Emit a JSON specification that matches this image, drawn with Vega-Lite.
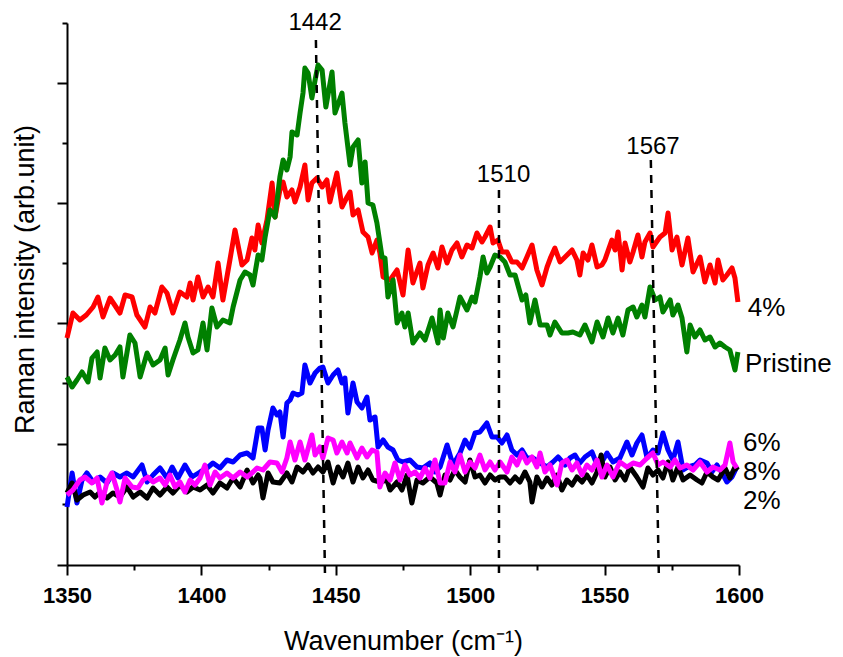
{
"$schema":"https://vega.github.io/schema/vega-lite/v6.json",
"width":672,"height":542,
"autosize":{"type":"none"},
"padding":{"left":67,"top":23,"right":104,"bottom":92},
"config":{"view":{"stroke":null},"font":"Liberation Sans"},
"datasets":{
"red":[{"x":1350,"y":227},{"x":1352.2,"y":252},{"x":1354.8,"y":245},{"x":1357.2,"y":250},{"x":1359.7,"y":258},{"x":1361.5,"y":268},{"x":1363.4,"y":248},{"x":1366.0,"y":267},{"x":1369.7,"y":252},{"x":1371.6,"y":270},{"x":1374.2,"y":268},{"x":1376.0,"y":250},{"x":1379.0,"y":238},{"x":1380.9,"y":258},{"x":1382.7,"y":252},{"x":1385.3,"y":278},{"x":1387.2,"y":272},{"x":1389.4,"y":252},{"x":1392.0,"y":273},{"x":1394.6,"y":268},{"x":1395.8,"y":282},{"x":1396.9,"y":265},{"x":1398.7,"y":288},{"x":1400.6,"y":268},{"x":1402.5,"y":278},{"x":1404.3,"y":268},{"x":1406.2,"y":302},{"x":1408.0,"y":265},{"x":1410.6,"y":305},{"x":1412.5,"y":335},{"x":1415.1,"y":300},{"x":1417.0,"y":305},{"x":1418.8,"y":327},{"x":1419.9,"y":315},{"x":1421.1,"y":340},{"x":1422.5,"y":322},{"x":1424.4,"y":345},{"x":1426.3,"y":382},{"x":1427.4,"y":348},{"x":1429.2,"y":375},{"x":1430.4,"y":383},{"x":1431.8,"y":368},{"x":1433.7,"y":375},{"x":1434.8,"y":363},{"x":1436.7,"y":378},{"x":1438.5,"y":400},{"x":1439.7,"y":365},{"x":1441.1,"y":382},{"x":1443.0,"y":387},{"x":1444.9,"y":378},{"x":1446.7,"y":385},{"x":1447.8,"y":363},{"x":1450.4,"y":392},{"x":1452.3,"y":358},{"x":1454.2,"y":368},{"x":1455.3,"y":373},{"x":1456.4,"y":350},{"x":1458.3,"y":355},{"x":1460.1,"y":333},{"x":1462.0,"y":328},{"x":1463.5,"y":312},{"x":1465.3,"y":325},{"x":1466.4,"y":312},{"x":1467.6,"y":288},{"x":1470.2,"y":285},{"x":1472.8,"y":295},{"x":1475.0,"y":270},{"x":1476.9,"y":315},{"x":1478.7,"y":282},{"x":1481.3,"y":302},{"x":1482.4,"y":277},{"x":1484.3,"y":300},{"x":1486.2,"y":312},{"x":1488.0,"y":297},{"x":1489.5,"y":318},{"x":1491.4,"y":302},{"x":1493.2,"y":315},{"x":1495.1,"y":322},{"x":1496.9,"y":308},{"x":1498.8,"y":320},{"x":1500.7,"y":317},{"x":1502.5,"y":332},{"x":1504.4,"y":323},{"x":1505.5,"y":328},{"x":1507.4,"y":338},{"x":1508.5,"y":322},{"x":1510.3,"y":325},{"x":1511.8,"y":313},{"x":1513.7,"y":313},{"x":1515.5,"y":303},{"x":1517.4,"y":303},{"x":1519.3,"y":297},{"x":1521.1,"y":308},{"x":1523.0,"y":320},{"x":1524.8,"y":295},{"x":1526.7,"y":280},{"x":1528.6,"y":298},{"x":1530.0,"y":308},{"x":1531.5,"y":317},{"x":1533.4,"y":303},{"x":1535.3,"y":308},{"x":1537.9,"y":315},{"x":1539.7,"y":305},{"x":1540.8,"y":290},{"x":1542.0,"y":312},{"x":1543.8,"y":305},{"x":1545.3,"y":320},{"x":1547.2,"y":298},{"x":1549.0,"y":300},{"x":1550.1,"y":305},{"x":1552.7,"y":325},{"x":1553.9,"y":315},{"x":1555.0,"y":333},{"x":1556.5,"y":295},{"x":1557.6,"y":322},{"x":1559.4,"y":303},{"x":1560.6,"y":313},{"x":1562.4,"y":330},{"x":1563.9,"y":308},{"x":1565.0,"y":323},{"x":1566.9,"y":332},{"x":1568.0,"y":318},{"x":1570.6,"y":328},{"x":1572.5,"y":332},{"x":1573.6,"y":352},{"x":1575.1,"y":315},{"x":1576.9,"y":328},{"x":1578.8,"y":300},{"x":1581.0,"y":327},{"x":1582.9,"y":293},{"x":1585.5,"y":308},{"x":1587.3,"y":283},{"x":1589.2,"y":300},{"x":1591.1,"y":282},{"x":1592.2,"y":305},{"x":1594.0,"y":285},{"x":1595.5,"y":290},{"x":1597.4,"y":297},{"x":1598.5,"y":287},{"x":1599.6,"y":263}],
"green":[{"x":1350,"y":188},{"x":1351.9,"y":178},{"x":1353.7,"y":185},{"x":1355.6,"y":193},{"x":1357.8,"y":183},{"x":1359.3,"y":207},{"x":1361.2,"y":213},{"x":1362.3,"y":187},{"x":1364.1,"y":217},{"x":1366.0,"y":205},{"x":1367.9,"y":210},{"x":1369.7,"y":218},{"x":1370.8,"y":188},{"x":1373.4,"y":230},{"x":1375.3,"y":222},{"x":1377.2,"y":188},{"x":1379.8,"y":212},{"x":1382.0,"y":200},{"x":1384.6,"y":205},{"x":1386.5,"y":217},{"x":1387.6,"y":190},{"x":1389.4,"y":205},{"x":1392.0,"y":225},{"x":1393.9,"y":242},{"x":1395.0,"y":228},{"x":1396.9,"y":212},{"x":1398.7,"y":215},{"x":1400.6,"y":242},{"x":1402.1,"y":215},{"x":1403.9,"y":257},{"x":1405.8,"y":238},{"x":1408.0,"y":245},{"x":1410.6,"y":242},{"x":1411.8,"y":258},{"x":1414.4,"y":285},{"x":1416.2,"y":293},{"x":1418.1,"y":290},{"x":1419.2,"y":280},{"x":1421.1,"y":310},{"x":1422.5,"y":305},{"x":1423.7,"y":328},{"x":1425.5,"y":355},{"x":1427.4,"y":348},{"x":1429.2,"y":388},{"x":1430.4,"y":405},{"x":1431.8,"y":395},{"x":1433.0,"y":408},{"x":1433.7,"y":433},{"x":1435.6,"y":430},{"x":1436.7,"y":452},{"x":1437.8,"y":472},{"x":1438.5,"y":497},{"x":1439.7,"y":492},{"x":1441.1,"y":467},{"x":1442.3,"y":485},{"x":1443.4,"y":500},{"x":1444.9,"y":495},{"x":1446.3,"y":458},{"x":1448.6,"y":493},{"x":1449.7,"y":452},{"x":1452.3,"y":472},{"x":1453.4,"y":442},{"x":1455.3,"y":400},{"x":1456.4,"y":418},{"x":1458.3,"y":425},{"x":1459.7,"y":382},{"x":1460.9,"y":403},{"x":1462.0,"y":362},{"x":1463.8,"y":360},{"x":1465.3,"y":342},{"x":1467.2,"y":308},{"x":1468.3,"y":307},{"x":1469.4,"y":268},{"x":1471.3,"y":285},{"x":1472.8,"y":242},{"x":1474.6,"y":252},{"x":1475.7,"y":238},{"x":1476.9,"y":252},{"x":1478.7,"y":222},{"x":1481.3,"y":232},{"x":1483.2,"y":225},{"x":1485.8,"y":247},{"x":1488.0,"y":222},{"x":1488.8,"y":255},{"x":1490.0,"y":227},{"x":1491.7,"y":252},{"x":1493.6,"y":238},{"x":1495.1,"y":255},{"x":1496.2,"y":268},{"x":1498.8,"y":255},{"x":1500.7,"y":268},{"x":1501.8,"y":263},{"x":1503.6,"y":288},{"x":1504.8,"y":308},{"x":1506.2,"y":292},{"x":1507.4,"y":298},{"x":1509.2,"y":310},{"x":1511.1,"y":308},{"x":1512.9,"y":303},{"x":1514.8,"y":290},{"x":1516.7,"y":290},{"x":1519.3,"y":265},{"x":1520.7,"y":270},{"x":1522.2,"y":242},{"x":1524.1,"y":265},{"x":1526.0,"y":240},{"x":1528.6,"y":240},{"x":1529.7,"y":230},{"x":1531.5,"y":243},{"x":1534.1,"y":232},{"x":1536.4,"y":232},{"x":1538.2,"y":233},{"x":1540.8,"y":230},{"x":1542.7,"y":240},{"x":1545.3,"y":223},{"x":1547.2,"y":243},{"x":1549.4,"y":228},{"x":1551.3,"y":247},{"x":1553.1,"y":232},{"x":1555.0,"y":247},{"x":1556.8,"y":230},{"x":1558.7,"y":255},{"x":1560.6,"y":258},{"x":1562.0,"y":248},{"x":1563.9,"y":260},{"x":1565.0,"y":248},{"x":1566.9,"y":278},{"x":1568.8,"y":265},{"x":1570.6,"y":268},{"x":1571.7,"y":253},{"x":1574.4,"y":265},{"x":1575.4,"y":250},{"x":1577.3,"y":260},{"x":1578.8,"y":247},{"x":1580.6,"y":213},{"x":1581.8,"y":240},{"x":1583.6,"y":228},{"x":1585.5,"y":235},{"x":1587.3,"y":225},{"x":1589.2,"y":228},{"x":1591.1,"y":218},{"x":1592.9,"y":222},{"x":1594.8,"y":218},{"x":1596.6,"y":215},{"x":1598.5,"y":195},{"x":1599.6,"y":213}],
"blue":[{"x":1350,"y":58},{"x":1351.9,"y":92},{"x":1353.7,"y":62},{"x":1355.6,"y":85},{"x":1357.4,"y":92},{"x":1359.7,"y":83},{"x":1362.3,"y":88},{"x":1364.9,"y":82},{"x":1367.1,"y":92},{"x":1369.7,"y":88},{"x":1372.3,"y":92},{"x":1374.6,"y":88},{"x":1377.9,"y":100},{"x":1379.8,"y":83},{"x":1382.0,"y":90},{"x":1384.6,"y":97},{"x":1387.2,"y":87},{"x":1389.1,"y":98},{"x":1391.3,"y":87},{"x":1393.9,"y":100},{"x":1396.5,"y":88},{"x":1399.5,"y":93},{"x":1402.1,"y":97},{"x":1404.3,"y":102},{"x":1406.9,"y":97},{"x":1409.5,"y":105},{"x":1411.8,"y":103},{"x":1414.4,"y":110},{"x":1417.0,"y":112},{"x":1419.2,"y":107},{"x":1421.1,"y":137},{"x":1422.5,"y":137},{"x":1423.7,"y":115},{"x":1424.8,"y":135},{"x":1426.6,"y":157},{"x":1428.1,"y":150},{"x":1429.2,"y":153},{"x":1430.4,"y":128},{"x":1431.8,"y":162},{"x":1433.0,"y":165},{"x":1434.1,"y":172},{"x":1435.9,"y":170},{"x":1437.4,"y":172},{"x":1438.5,"y":200},{"x":1440.4,"y":182},{"x":1442.3,"y":192},{"x":1444.1,"y":197},{"x":1445.2,"y":198},{"x":1447.1,"y":182},{"x":1449.0,"y":190},{"x":1450.8,"y":195},{"x":1452.3,"y":182},{"x":1453.4,"y":187},{"x":1454.5,"y":152},{"x":1456.4,"y":182},{"x":1457.9,"y":163},{"x":1459.7,"y":157},{"x":1461.6,"y":168},{"x":1462.7,"y":145},{"x":1464.6,"y":148},{"x":1465.7,"y":118},{"x":1467.6,"y":125},{"x":1469.4,"y":118},{"x":1471.3,"y":115},{"x":1473.1,"y":105},{"x":1475.0,"y":103},{"x":1477.6,"y":105},{"x":1480.2,"y":98},{"x":1482.4,"y":97},{"x":1485.0,"y":102},{"x":1486.9,"y":93},{"x":1488.8,"y":98},{"x":1491.4,"y":120},{"x":1493.6,"y":100},{"x":1496.2,"y":112},{"x":1498.1,"y":125},{"x":1499.9,"y":117},{"x":1501.8,"y":132},{"x":1503.6,"y":133},{"x":1506.2,"y":142},{"x":1508.1,"y":128},{"x":1510.0,"y":128},{"x":1511.8,"y":122},{"x":1513.7,"y":130},{"x":1515.5,"y":115},{"x":1517.4,"y":110},{"x":1519.3,"y":115},{"x":1521.1,"y":107},{"x":1523.4,"y":107},{"x":1526.0,"y":102},{"x":1528.6,"y":98},{"x":1530.8,"y":103},{"x":1532.7,"y":108},{"x":1535.3,"y":100},{"x":1537.1,"y":107},{"x":1539.0,"y":110},{"x":1540.8,"y":102},{"x":1542.7,"y":108},{"x":1545.3,"y":113},{"x":1547.2,"y":100},{"x":1549.4,"y":105},{"x":1550.9,"y":112},{"x":1553.1,"y":103},{"x":1555.7,"y":107},{"x":1558.3,"y":123},{"x":1560.2,"y":110},{"x":1562.0,"y":122},{"x":1563.9,"y":130},{"x":1565.8,"y":107},{"x":1568.0,"y":115},{"x":1569.9,"y":112},{"x":1571.7,"y":132},{"x":1573.6,"y":115},{"x":1575.4,"y":105},{"x":1577.3,"y":123},{"x":1579.2,"y":95},{"x":1581.0,"y":98},{"x":1583.6,"y":100},{"x":1585.5,"y":105},{"x":1588.1,"y":102},{"x":1589.9,"y":93},{"x":1591.8,"y":100},{"x":1593.7,"y":92},{"x":1595.5,"y":83},{"x":1597.4,"y":88},{"x":1599.2,"y":98}],
"black":[{"x":1350,"y":72},{"x":1351.9,"y":82},{"x":1353.7,"y":65},{"x":1356.0,"y":70},{"x":1358.6,"y":73},{"x":1360.4,"y":68},{"x":1362.3,"y":73},{"x":1364.9,"y":67},{"x":1367.1,"y":72},{"x":1369.7,"y":68},{"x":1372.3,"y":78},{"x":1374.6,"y":68},{"x":1377.2,"y":73},{"x":1379.8,"y":67},{"x":1382.0,"y":77},{"x":1384.6,"y":70},{"x":1387.2,"y":78},{"x":1389.4,"y":72},{"x":1392.0,"y":80},{"x":1394.6,"y":73},{"x":1396.9,"y":78},{"x":1399.5,"y":75},{"x":1402.1,"y":80},{"x":1404.3,"y":72},{"x":1406.9,"y":82},{"x":1409.5,"y":77},{"x":1411.8,"y":87},{"x":1414.4,"y":78},{"x":1417.0,"y":95},{"x":1419.2,"y":82},{"x":1421.1,"y":90},{"x":1421.8,"y":87},{"x":1422.9,"y":67},{"x":1424.8,"y":92},{"x":1426.6,"y":83},{"x":1429.2,"y":82},{"x":1431.8,"y":92},{"x":1433.7,"y":83},{"x":1435.6,"y":98},{"x":1437.8,"y":93},{"x":1439.7,"y":100},{"x":1441.5,"y":92},{"x":1443.4,"y":98},{"x":1445.2,"y":93},{"x":1447.1,"y":103},{"x":1449.0,"y":82},{"x":1450.8,"y":98},{"x":1452.7,"y":88},{"x":1454.5,"y":102},{"x":1456.4,"y":83},{"x":1458.3,"y":98},{"x":1460.1,"y":87},{"x":1462.0,"y":95},{"x":1463.8,"y":85},{"x":1466.4,"y":83},{"x":1469.0,"y":85},{"x":1470.2,"y":75},{"x":1472.8,"y":83},{"x":1474.6,"y":75},{"x":1476.5,"y":90},{"x":1478.3,"y":62},{"x":1480.2,"y":85},{"x":1482.4,"y":82},{"x":1485.0,"y":88},{"x":1487.6,"y":82},{"x":1488.8,"y":70},{"x":1490.6,"y":90},{"x":1492.5,"y":85},{"x":1494.3,"y":95},{"x":1496.2,"y":88},{"x":1498.1,"y":83},{"x":1499.9,"y":105},{"x":1501.8,"y":88},{"x":1503.6,"y":90},{"x":1505.5,"y":82},{"x":1507.4,"y":90},{"x":1509.2,"y":85},{"x":1511.1,"y":88},{"x":1512.9,"y":88},{"x":1514.8,"y":82},{"x":1516.7,"y":88},{"x":1518.5,"y":83},{"x":1520.4,"y":93},{"x":1522.2,"y":83},{"x":1523.0,"y":63},{"x":1524.8,"y":88},{"x":1526.7,"y":78},{"x":1528.6,"y":87},{"x":1530.4,"y":80},{"x":1532.3,"y":90},{"x":1534.1,"y":75},{"x":1536.0,"y":85},{"x":1537.9,"y":80},{"x":1539.7,"y":88},{"x":1541.6,"y":83},{"x":1543.4,"y":90},{"x":1545.3,"y":82},{"x":1547.2,"y":93},{"x":1548.7,"y":110},{"x":1550.1,"y":88},{"x":1552.0,"y":98},{"x":1553.9,"y":85},{"x":1555.7,"y":93},{"x":1557.6,"y":85},{"x":1559.4,"y":98},{"x":1562.0,"y":88},{"x":1564.3,"y":78},{"x":1566.1,"y":97},{"x":1568.0,"y":90},{"x":1569.9,"y":95},{"x":1571.7,"y":87},{"x":1573.6,"y":103},{"x":1575.4,"y":85},{"x":1577.3,"y":98},{"x":1579.2,"y":85},{"x":1581.8,"y":90},{"x":1584.4,"y":85},{"x":1586.2,"y":82},{"x":1588.1,"y":93},{"x":1590.3,"y":88},{"x":1592.2,"y":85},{"x":1594.8,"y":97},{"x":1596.6,"y":87},{"x":1598.5,"y":98},{"x":1599.6,"y":95}],
"magenta":[{"x":1350,"y":70},{"x":1352.2,"y":75},{"x":1354.8,"y":85},{"x":1356.7,"y":88},{"x":1359.3,"y":82},{"x":1361.2,"y":87},{"x":1363.0,"y":62},{"x":1364.9,"y":83},{"x":1366.7,"y":92},{"x":1368.6,"y":75},{"x":1369.7,"y":63},{"x":1371.6,"y":87},{"x":1374.2,"y":78},{"x":1376.4,"y":77},{"x":1378.3,"y":85},{"x":1380.1,"y":88},{"x":1382.0,"y":83},{"x":1384.6,"y":87},{"x":1386.5,"y":80},{"x":1388.3,"y":90},{"x":1390.2,"y":78},{"x":1392.0,"y":83},{"x":1393.9,"y":73},{"x":1395.8,"y":85},{"x":1397.6,"y":80},{"x":1399.5,"y":87},{"x":1401.3,"y":100},{"x":1403.2,"y":80},{"x":1405.1,"y":93},{"x":1406.9,"y":87},{"x":1409.5,"y":92},{"x":1411.8,"y":87},{"x":1414.4,"y":93},{"x":1417.0,"y":88},{"x":1419.2,"y":93},{"x":1420.7,"y":97},{"x":1422.9,"y":95},{"x":1425.5,"y":103},{"x":1428.1,"y":102},{"x":1430.0,"y":93},{"x":1431.8,"y":107},{"x":1433.0,"y":123},{"x":1434.8,"y":105},{"x":1436.7,"y":123},{"x":1438.5,"y":105},{"x":1441.1,"y":130},{"x":1442.3,"y":110},{"x":1444.1,"y":118},{"x":1445.2,"y":107},{"x":1447.1,"y":127},{"x":1449.0,"y":125},{"x":1450.4,"y":112},{"x":1452.3,"y":123},{"x":1454.2,"y":112},{"x":1455.3,"y":122},{"x":1457.9,"y":107},{"x":1459.7,"y":117},{"x":1461.6,"y":108},{"x":1463.5,"y":115},{"x":1465.3,"y":113},{"x":1466.4,"y":78},{"x":1468.3,"y":92},{"x":1470.2,"y":85},{"x":1472.0,"y":102},{"x":1473.9,"y":85},{"x":1475.7,"y":100},{"x":1477.6,"y":90},{"x":1479.5,"y":93},{"x":1481.3,"y":87},{"x":1483.2,"y":97},{"x":1485.0,"y":87},{"x":1486.9,"y":105},{"x":1488.8,"y":82},{"x":1490.6,"y":82},{"x":1492.5,"y":103},{"x":1494.3,"y":93},{"x":1496.2,"y":110},{"x":1498.1,"y":93},{"x":1499.9,"y":103},{"x":1501.8,"y":97},{"x":1503.6,"y":110},{"x":1505.5,"y":95},{"x":1507.4,"y":103},{"x":1509.2,"y":95},{"x":1511.1,"y":103},{"x":1513.7,"y":93},{"x":1515.5,"y":108},{"x":1517.4,"y":100},{"x":1519.3,"y":112},{"x":1521.1,"y":102},{"x":1523.0,"y":108},{"x":1524.8,"y":98},{"x":1526.0,"y":112},{"x":1527.8,"y":93},{"x":1529.7,"y":100},{"x":1532.3,"y":80},{"x":1534.1,"y":102},{"x":1536.0,"y":105},{"x":1537.9,"y":95},{"x":1539.7,"y":102},{"x":1541.6,"y":90},{"x":1543.4,"y":100},{"x":1545.3,"y":95},{"x":1547.2,"y":105},{"x":1549.0,"y":88},{"x":1550.9,"y":100},{"x":1553.1,"y":88},{"x":1555.7,"y":103},{"x":1558.3,"y":98},{"x":1560.6,"y":102},{"x":1563.2,"y":100},{"x":1565.8,"y":107},{"x":1568.0,"y":112},{"x":1569.9,"y":100},{"x":1571.7,"y":103},{"x":1574.4,"y":98},{"x":1576.2,"y":105},{"x":1578.1,"y":97},{"x":1580.6,"y":100},{"x":1582.9,"y":95},{"x":1585.5,"y":103},{"x":1588.1,"y":93},{"x":1590.3,"y":98},{"x":1592.9,"y":95},{"x":1594.8,"y":100},{"x":1596.6,"y":122},{"x":1597.8,"y":103},{"x":1599.2,"y":97}],
"peaks":[{"x":1442.6,"y":525,"x2":1446.0,"y2":-13},{"x":1510.7,"y":375,"x2":1510.7,"y2":-13},{"x":1567.2,"y":405,"x2":1570.2,"y2":-13}],
"peaklabels":[{"x":1442.3,"y":535,"t":"1442"},{"x":1512.4,"y":383,"t":"1510"},{"x":1568.0,"y":411,"t":"1567"}],
"serieslabels":[{"x":1603.3,"y":249,"t":"4%"},{"x":1602.2,"y":193,"t":"Pristine"},{"x":1601.5,"y":114,"t":"6%"},{"x":1601.5,"y":85,"t":"8%"},{"x":1601.5,"y":56,"t":"2%"}]
},
"layer":[
{"data":{"name":"red"},"mark":{"type":"line","color":"#ff0000","strokeWidth":5,"strokeJoin":"round"},
 "encoding":{
  "x":{"field":"x","type":"quantitative","scale":{"domain":[1350,1600],"nice":false,"zero":false},
   "axis":{"orient":"bottom","values":[1350,1400,1450,1500,1550,1600],"format":"d","tickSize":10,"tickWidth":2,"tickColor":"#000","domainWidth":2,"domainColor":"#000","grid":false,"labelFont":"Liberation Sans","labelFontWeight":"bold","labelFontSize":22,"labelColor":"#000","labelPadding":10,"labelFlush":false,"labelOverlap":false,"title":"Wavenumber (cm⁻¹)","titleFont":"Liberation Sans","titleFontSize":27,"titleFontWeight":"normal","titleColor":"#000","titleBaseline":"alphabetic","titleY":84}},
  "y":{"field":"y","type":"quantitative","scale":{"domain":[0,542],"nice":false,"zero":false},
   "axis":{"orient":"left","values":[0,121,242,362,482],"tickSize":10,"tickWidth":2,"tickColor":"#000","domainWidth":2,"domainColor":"#000","grid":false,"labels":false,"title":"Raman intensity (arb.unit)","titleFont":"Liberation Sans","titleFontSize":27,"titleFontWeight":"normal","titleColor":"#000","titleBaseline":"alphabetic","titleX":-34,"titleY":256,"titleAngle":-90}}
 }},
{"data":{"name":"green"},"mark":{"type":"line","color":"#008000","strokeWidth":5,"strokeJoin":"round"},
 "encoding":{
  "x":{"field":"x","type":"quantitative","axis":{"orient":"bottom","values":[1375,1425,1475,1525,1575],"tickSize":5,"tickWidth":2,"tickColor":"#000","domain":false,"labels":false,"grid":false,"title":null}},
  "y":{"field":"y","type":"quantitative","axis":{"orient":"left","values":[61,182,302,422,542],"tickSize":5,"tickWidth":2,"tickColor":"#000","domain":false,"labels":false,"grid":false,"title":null}}
 }},
{"data":{"name":"blue"},"mark":{"type":"line","color":"#0000ff","strokeWidth":5,"strokeJoin":"round"},
 "encoding":{"x":{"field":"x","type":"quantitative","axis":null},"y":{"field":"y","type":"quantitative","axis":null}}},
{"data":{"name":"black"},"mark":{"type":"line","color":"#000000","strokeWidth":5,"strokeJoin":"round"},
 "encoding":{"x":{"field":"x","type":"quantitative","axis":null},"y":{"field":"y","type":"quantitative","axis":null}}},
{"data":{"name":"magenta"},"mark":{"type":"line","color":"#ff00ff","strokeWidth":5,"strokeJoin":"round"},
 "encoding":{"x":{"field":"x","type":"quantitative","axis":null},"y":{"field":"y","type":"quantitative","axis":null}}},
{"data":{"name":"peaks"},"mark":{"type":"rule","color":"#000","strokeWidth":2.5,"strokeDash":[8,7]},
 "encoding":{"x":{"field":"x","type":"quantitative","axis":null},"x2":{"field":"x2"},"y":{"field":"y","type":"quantitative","axis":null},"y2":{"field":"y2"}}},
{"data":{"name":"peaklabels"},"mark":{"type":"text","align":"center","baseline":"alphabetic","fontSize":24,"font":"Liberation Sans","color":"#000"},
 "encoding":{"x":{"field":"x","type":"quantitative","axis":null},"y":{"field":"y","type":"quantitative","axis":null},"text":{"field":"t"}}},
{"data":{"name":"serieslabels"},"mark":{"type":"text","align":"left","baseline":"alphabetic","fontSize":26,"font":"Liberation Sans","color":"#000"},
 "encoding":{"x":{"field":"x","type":"quantitative","axis":null},"y":{"field":"y","type":"quantitative","axis":null},"text":{"field":"t"}}}
],
"resolve":{"axis":{"x":"independent","y":"independent"}}
}
